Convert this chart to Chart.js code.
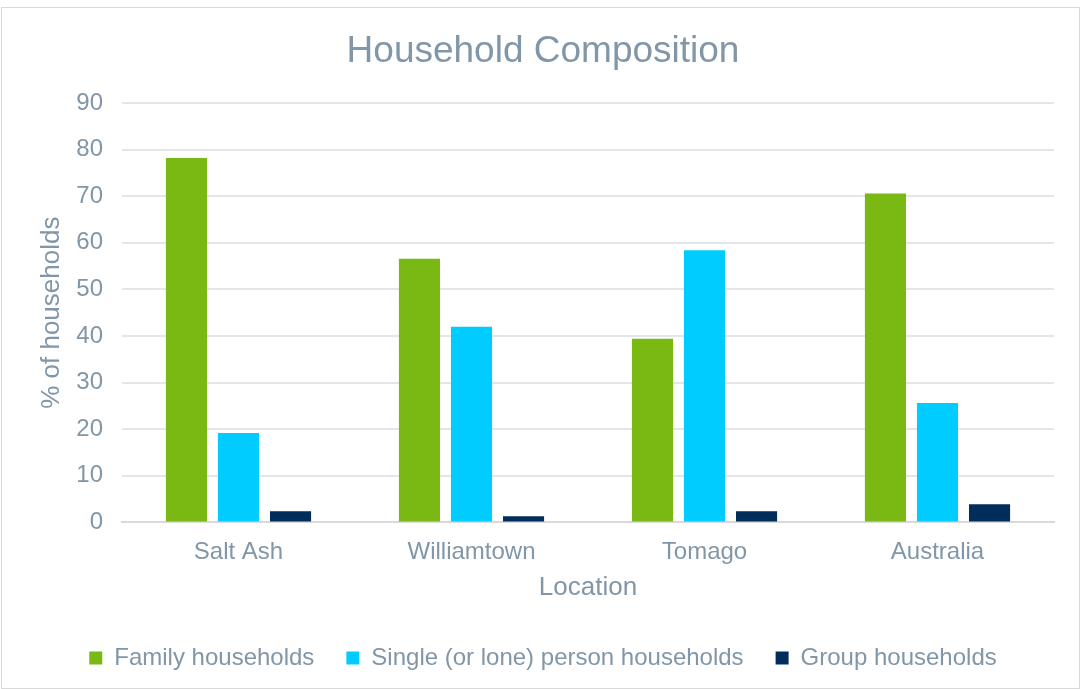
<!DOCTYPE html>
<html>
<head>
<meta charset="utf-8">
<script src="https://cdn.jsdelivr.net/npm/chart.js@4"></script>
<style>
  body { margin: 0; background: #fff; }
  #wrap { position: absolute; left: 1px; top: 7px; width: 1077px; height: 680px; border: 1px solid #D9D9D9; }
</style>
</head>
<body>
<div id="wrap"><canvas id="mycanvas" width="1077" height="680"></canvas></div>
<script>
var locations = ['Salt Ash', 'Williamtown', 'Tomago', 'Australia'];
var family = [78.2, 56.6, 39.4, 70.6];
var single = [19.2, 42.0, 58.4, 25.6];
var group = [2.4, 1.3, 2.4, 3.9];

var textColor = '#8196A8';
Chart.defaults.font.family = '"Liberation Sans", Arial, sans-serif';
Chart.defaults.color = textColor;

var chartdata = {
	labels: locations,
	datasets: [
		{ label: 'Family households', backgroundColor: '#7AB813', borderWidth: 0, data: family },
		{ label: 'Single (or lone) person households', backgroundColor: '#00CCFF', borderWidth: 0, data: single },
		{ label: 'Group households', backgroundColor: '#002D5A', borderWidth: 0, data: group }
	]
};

var ctx = document.getElementById('mycanvas');
var barGraph = new Chart(ctx, {
	type: 'bar',
	data: chartdata,
	options: {
		responsive: false,
		animation: false,
		datasets: { bar: { categoryPercentage: 0.67, barPercentage: 0.79 } },
		layout: { padding: { left: 30, right: 25, top: 0, bottom: 8 } },
		plugins: {
			title: {
				display: true,
				text: 'Household Composition',
				font: { size: 37, weight: 'normal' },
				color: textColor,
				padding: { top: 22, bottom: 28.6 }
			},
			legend: {
				position: 'bottom',
				labels: { boxWidth: 13, boxHeight: 13, font: { size: 24 }, color: textColor, padding: 32 }
			},
			tooltip: { enabled: false }
		},
		scales: {
			x: {
				grid: { display: false },
				border: { color: '#D9D9D9', width: 2 },
				ticks: { font: { size: 24 }, color: textColor, padding: 8 },
				title: { display: true, text: 'Location', font: { size: 26 }, color: textColor, padding: { top: 0, bottom: 11 } },
				afterFit: function(axis) { axis.height = 91.6; }
			},
			y: {
				min: 0, max: 90,
				ticks: { stepSize: 10, font: { size: 24 }, color: textColor, padding: 19 },
				grid: { color: '#E2E6EA', lineWidth: 2, drawTicks: false },
				border: { display: false },
				title: { display: true, text: '% of households', font: { size: 26 }, color: textColor, padding: { top: 4, bottom: 4 } },
				afterFit: function(axis) { axis.width = 90; }
			}
		}
	}
});
</script>
</body>
</html>
